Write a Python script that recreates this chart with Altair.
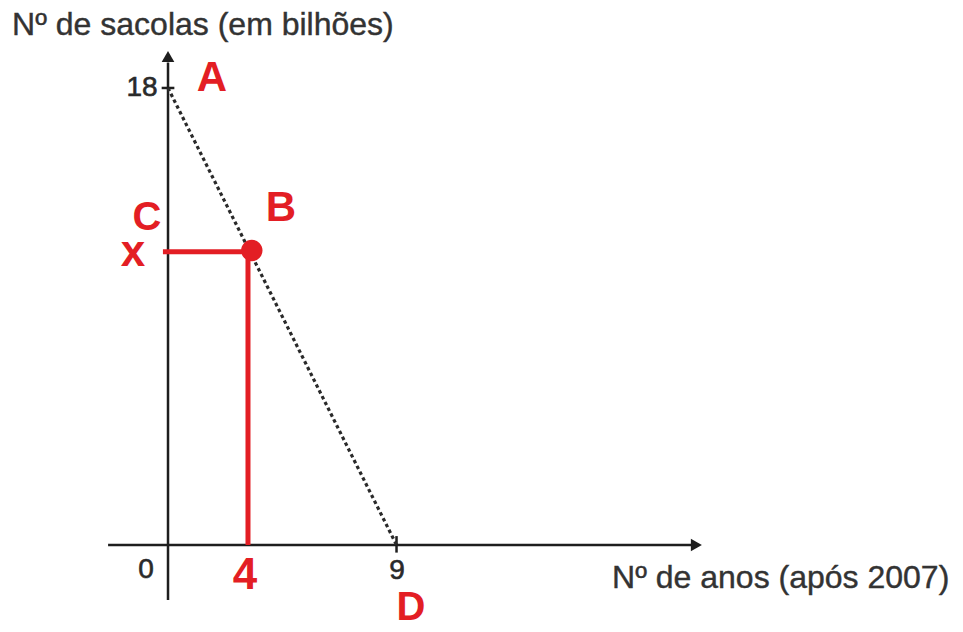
import altair as alt
import pandas as pd

# ---- data (in chart units) ----
# axis segments: x-axis, y-axis, tick at 18, tick at 9
seg_x1 = [-2.36, 0.0, -0.25, 9.0]
seg_y1 = [0.0, -2.17, 18.0, -0.3]
seg_x2 = [20.6, 0.0, 0.25, 9.0]
seg_y2 = [0.0, 19.0, 18.0, 0.35]

# dotted line A -> D
line_x1 = [0.0]
line_y1 = [18.0]
line_x2 = [9.0]
line_y2 = [0.0]

# point B and red guide lines
b_x = [3.3]
b_y = [11.6]
guide_x1 = [-0.2, 3.15]
guide_y1 = [11.55, 0.0]
guide_x2 = [3.3, 3.15]
guide_y2 = [11.55, 11.55]

# arrow heads
arrow_x = [0.0, 20.81]
arrow_y = [19.24, 0.0]
arrow_shape = ["triangle-up", "triangle-right"]

# tick labels (black)
tick_text = ["18", "0", "9"]
tick_x = [-1.02, -0.87, 9.02]
tick_y = [18.0, -0.98, -1.02]

# red letters / labels
red_text = ["A", "B", "C", "x", "D", "4"]
red_x = [1.73, 4.45, -0.83, -1.38, 9.57, 3.03]
red_y = [18.39, 13.27, 12.88, 11.52, -2.48, -1.22]
red_size = [42, 42, 40, 44, 40, 44]

# axis titles
title_text = ["Nº de sacolas (em bilhões)", "Nº de anos (após 2007)"]
title_x = [-6.14, 17.49]
title_y = [20.50, -1.30]

RED = "#e31e24"
DARK = "#1e1e1e"
FONT = "Liberation Sans"

W, H = 947, 616
xdom = [-6.302, 30.996]
ydom = [-3.112, 21.150]
xs = alt.Scale(domain=xdom, nice=False, zero=False)
ys = alt.Scale(domain=ydom, nice=False, zero=False)

def X(f):
    return alt.X(f, type="quantitative", scale=xs, axis=None)

def Y(f):
    return alt.Y(f, type="quantitative", scale=ys, axis=None)

segs = pd.DataFrame({"x": seg_x1, "y": seg_y1, "x2": seg_x2, "y2": seg_y2})
axes_layer = alt.Chart(segs).mark_rule(color=DARK, strokeWidth=2.5).encode(
    x=X("x"), y=Y("y"), x2="x2", y2="y2")

ldf = pd.DataFrame({"x": line_x1, "y": line_y1, "x2": line_x2, "y2": line_y2})
dotted = alt.Chart(ldf).mark_rule(color="#2a2a2a", strokeWidth=3.2, strokeDash=[3.5, 3]).encode(
    x=X("x"), y=Y("y"), x2="x2", y2="y2")

gdf = pd.DataFrame({"x": guide_x1, "y": guide_y1, "x2": guide_x2, "y2": guide_y2})
guides = alt.Chart(gdf).mark_rule(color=RED, strokeWidth=5).encode(
    x=X("x"), y=Y("y"), x2="x2", y2="y2")

bdf = pd.DataFrame({"x": b_x, "y": b_y})
point_b = alt.Chart(bdf).mark_circle(color=RED, size=460, opacity=1).encode(
    x=X("x"), y=Y("y"))

adf = pd.DataFrame({"x": arrow_x, "y": arrow_y, "shape": arrow_shape})
arrows = alt.Chart(adf).mark_point(filled=True, color=DARK, size=160, opacity=1).encode(
    x=X("x"), y=Y("y"), shape=alt.Shape("shape:N", scale=None, legend=None))

tdf = pd.DataFrame({"t": tick_text, "x": tick_x, "y": tick_y})
ticks = alt.Chart(tdf).mark_text(font=FONT, fontSize=28, color="#2a2a2a", align="center",
                                 baseline="middle", stroke="#2a2a2a", strokeWidth=0.6).encode(
    x=X("x"), y=Y("y"), text="t:N")

rdf = pd.DataFrame({"t": red_text, "x": red_x, "y": red_y, "s": red_size})
reds = alt.Chart(rdf).mark_text(font=FONT, fontWeight="bold", color=RED, align="center",
                                baseline="middle").encode(
    x=X("x"), y=Y("y"), text="t:N", size=alt.Size("s:Q", scale=None, legend=None))

ttdf = pd.DataFrame({"t": title_text, "x": title_x, "y": title_y})
titles = alt.Chart(ttdf).mark_text(font=FONT, fontSize=32, color="#333333", align="left",
                                   baseline="middle", stroke="#333333", strokeWidth=0.4).encode(
    x=X("x"), y=Y("y"), text="t:N")

chart = alt.layer(axes_layer, dotted, guides, point_b, arrows, ticks, reds, titles).properties(
    width=W, height=H, padding=0, autosize=alt.AutoSizeParams(type="none"),
    background="white"
).configure_view(strokeWidth=0)

chart.save("out.html", embed_options={"renderer": "svg", "actions": False})
